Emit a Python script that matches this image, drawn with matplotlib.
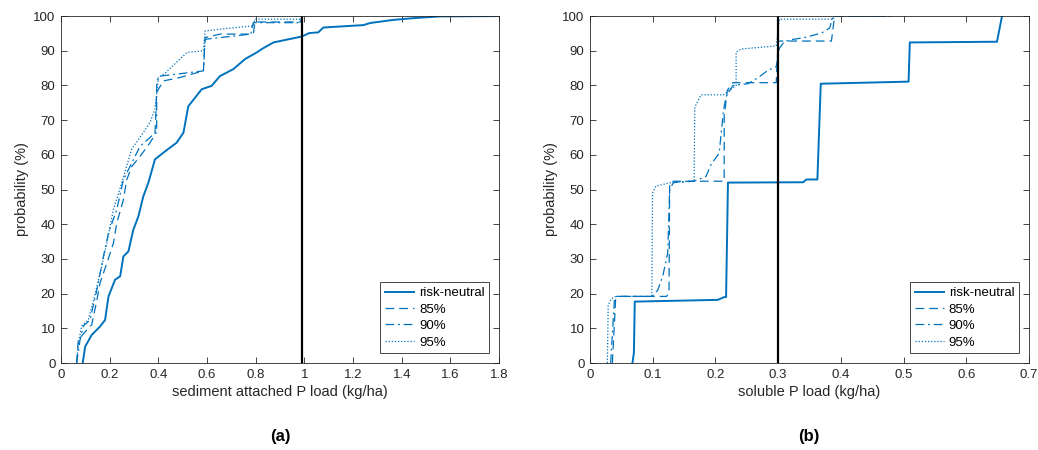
import numpy as np
import matplotlib.pyplot as plt

plt.rcParams['font.family'] = ['Liberation Sans', 'DejaVu Sans']

# panel (a): sediment attached P load (kg/ha) vs probability (%)
a_neutral_x = [0.089, 0.099, 0.126, 0.160, 0.181, 0.195, 0.222, 0.243, 0.256, 0.277, 0.297, 0.318,
               0.338, 0.359, 0.386, 0.42, 0.475, 0.503, 0.523, 0.551, 0.578, 0.619, 0.653, 0.708,
               0.756, 0.804, 0.825, 0.873, 0.941, 0.989, 1.02, 1.057, 1.078, 1.243, 1.27, 1.366,
               1.448, 1.558, 1.8]
a_neutral_y = [0, 4.7, 8.1, 10.5, 12.4, 19.2, 24, 25, 30.7, 32.2, 38.4, 42.3, 48, 52, 58.7, 60.6,
               63.5, 66.4, 74, 76.5, 78.9, 79.9, 82.7, 84.7, 87.6, 89.5, 90.5, 92.4, 93.4, 94.1,
               95.1, 95.3, 96.7, 97.4, 98, 98.9, 99.4, 99.9, 100]
a_85_x = [0.064, 0.071, 0.099, 0.126, 0.147, 0.16, 0.188, 0.215, 0.229, 0.256, 0.27, 0.29, 0.325,
          0.366, 0.386, 0.393, 0.42, 0.489, 0.585, 0.592, 0.653, 0.79, 0.797, 0.985, 0.99]
a_85_y = [0, 6.6, 9, 11, 18, 23, 28.7, 34.5, 40.3, 47, 52.8, 56.6, 59.6, 63.5, 65.9, 78, 81.3,
          82.3, 84.2, 93.8, 94.8, 94.8, 98.3, 98.3, 100]
a_90_x = [0.064, 0.078, 0.092, 0.119, 0.147, 0.174, 0.195, 0.229, 0.256, 0.283, 0.325, 0.38, 0.393,
          0.393, 0.407, 0.585, 0.592, 0.78, 0.79, 0.985, 0.99]
a_90_y = [0, 6.6, 10.7, 12.4, 21, 30.7, 37.5, 44.2, 52.8, 56.6, 62.5, 65.9, 66.4, 81.3, 82.7,
          84.2, 93.3, 94.8, 98.1, 98.1, 100]
a_95_x = [0.064, 0.071, 0.085, 0.112, 0.133, 0.16, 0.188, 0.215, 0.249, 0.29, 0.338, 0.366, 0.386,
          0.40, 0.43, 0.517, 0.585, 0.592, 0.653, 0.79, 0.797, 0.985, 0.99]
a_95_y = [0, 5.7, 10.7, 12.4, 18, 25.7, 34.5, 44.2, 51.8, 61.6, 66.4, 69.4, 73.2, 82.3, 83.7,
          89.5, 90, 95.7, 96.2, 97.2, 99.1, 99.1, 100]
a_limit = 0.99

# panel (b): soluble P load (kg/ha) vs probability (%)
b_neutral_x = [0.0677, 0.07, 0.0714, 0.2037, 0.214, 0.217, 0.22, 0.34, 0.345, 0.3626, 0.368,
               0.508, 0.510, 0.649, 0.657]
b_neutral_y = [0, 3, 17.7, 18.2, 19, 19, 52, 52.1, 52.9, 52.9, 80.5, 81.1, 92.4, 92.6, 100]
b_85_x = [0.0357, 0.041, 0.043, 0.122, 0.126, 0.127, 0.133, 0.214, 0.214, 0.219, 0.228, 0.297,
          0.30, 0.31, 0.385, 0.39, 0.48]
b_85_y = [0, 18.8, 19.2, 19.2, 20, 51.6, 52.4, 52.4, 71, 78.6, 80.8, 80.8, 92.8, 92.8, 92.8,
          100, 100]
b_90_x = [0.033, 0.039, 0.043, 0.0987, 0.108, 0.116, 0.124, 0.127, 0.133, 0.166, 0.185, 0.193,
          0.206, 0.213, 0.217, 0.228, 0.252, 0.270, 0.284, 0.297, 0.302, 0.31, 0.321, 0.342,
          0.369, 0.382, 0.388, 0.48]
b_90_y = [0, 18.5, 19.2, 19.2, 21, 25, 31.8, 50, 52, 52.4, 53.8, 57.2, 60.5, 73, 76.8, 80,
          80.5, 82.5, 84.4, 85.4, 90.7, 92.7, 93.2, 93.8, 95.1, 96.5, 100, 100]
b_95_x = [0.0277, 0.029, 0.034, 0.041, 0.0986, 0.0997, 0.105, 0.129, 0.166, 0.167, 0.177, 0.213,
          0.233, 0.233, 0.241, 0.297, 0.302, 0.388, 0.39, 0.48]
b_95_y = [0, 16.7, 18.5, 19.2, 19.2, 49, 51, 52, 52.5, 73.7, 77.3, 77.3, 80, 89.6, 90.5,
          91.4, 99.1, 99.1, 100, 100]
b_limit = 0.30

blue = '#0072BD'
labels = ['risk-neutral', '85%', '90%', '95%']

fig = plt.figure(figsize=(10.38, 4.5), dpi=100)
ax1 = fig.add_axes([0.0588, 0.1933, 0.422, 0.771])
ax2 = fig.add_axes([0.5684, 0.1933, 0.4229, 0.771])


def draw(ax, curves, limit, xmax, xstep, xlabel):
    styles = [('-', 1.4), ((0, (7, 4)), 0.9), ((0, (7, 3, 1.5, 3)), 0.9), ((0, (1, 1.5)), 0.9)]
    for (x, y), (ls, lw), lab in zip(curves, styles, labels):
        ax.plot(x, y, color=blue, linestyle=ls, linewidth=lw, label=lab)
    ax.axvline(limit, color='black', linewidth=1.6)
    ax.set_xlim(0, xmax)
    ax.set_ylim(0, 100)
    ax.set_xticks(np.round(np.arange(0, xmax + 1e-9, xstep), 2))
    ax.set_yticks(np.arange(0, 101, 10))
    ax.set_xticklabels([('%g' % t) for t in ax.get_xticks()])
    ax.tick_params(direction='in', top=True, right=True, labelsize=9.5, length=4,
                   width=0.6, color='#262626', labelcolor='#262626', pad=4)
    for s in ax.spines.values():
        s.set_color('#262626')
        s.set_linewidth(0.6)
    ax.set_xlabel(xlabel, fontsize=10.5, color='#262626', labelpad=3)
    ax.set_ylabel('probability (%)', fontsize=10.5, color='#262626', labelpad=3)
    leg = ax.legend(loc='lower right', fontsize=9.5, frameon=True, fancybox=False,
                    handlelength=2.2, borderpad=0.35, labelspacing=0.32, handletextpad=0.4,
                    borderaxespad=0.75)
    leg.get_frame().set_edgecolor('#262626')
    leg.get_frame().set_linewidth(0.6)
    leg.get_frame().set_alpha(1)


draw(ax1, [(a_neutral_x, a_neutral_y), (a_85_x, a_85_y), (a_90_x, a_90_y), (a_95_x, a_95_y)],
     a_limit, 1.8, 0.2, 'sediment attached P load (kg/ha)')
draw(ax2, [(b_neutral_x, b_neutral_y), (b_85_x, b_85_y), (b_90_x, b_90_y), (b_95_x, b_95_y)],
     b_limit, 0.7, 0.1, 'soluble P load (kg/ha)')

fig.text(280 / 1038, 1 - 437 / 450, '(a)', fontsize=12, fontweight='bold', ha='center', va='center')
fig.text(809 / 1038, 1 - 437 / 450, '(b)', fontsize=12, fontweight='bold', ha='center', va='center')

fig.savefig('out.png', dpi=100)
